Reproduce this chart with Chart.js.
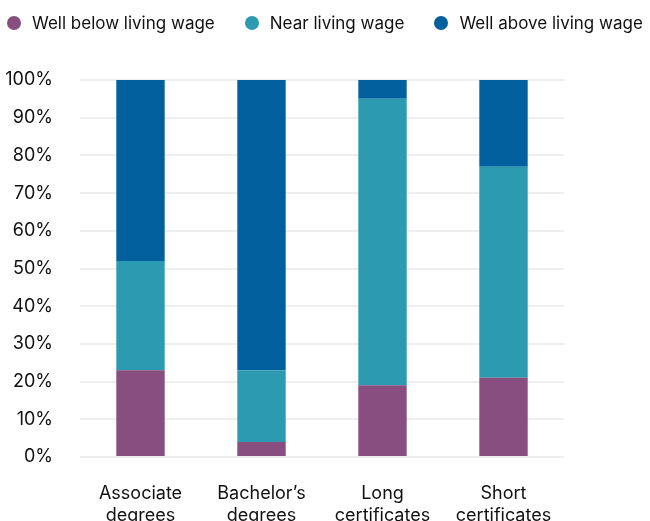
<!DOCTYPE html>
<html>
<head>
<meta charset="utf-8">
<script src="https://cdn.jsdelivr.net/npm/chart.js@4"></script>
<style>
    html, body { margin: 0; padding: 0; background: #fff; overflow: hidden; }
    #wrap { position: relative; width: 650px; height: 545px; }
    #legend {
        position: absolute; left: 7px; top: 13px; z-index: 2;
        display: flex; white-space: nowrap;
        font: 17px Inter, sans-serif; color: #111; line-height: 20px;
    }
    .legend-item { display: flex; align-items: center; margin-right: 30px; }
    .legend-item:last-child { margin-right: 0; }
    .legend-dot { width: 14px; height: 14px; border-radius: 50%; margin-right: 11px; }
</style>
</head>
<body>
<div id="wrap">
    <div id="legend"></div>
    <canvas id="chart"></canvas>
</div>
<script>
const CATEGORIES = [["Associate", "degrees"], ["Bachelor\u2019s", "degrees"], ["Long", "certificates"], ["Short", "certificates"]];
const BELOW = [23, 4, 19, 21];
const NEAR  = [29, 19, 76, 56];
const ABOVE = [48, 77, 5, 23];
const Y_TICKS = [0, 10, 20, 30, 40, 50, 60, 70, 80, 90, 100];

const FONT = "Inter";
const INK = "#111";

const chart = new Chart(document.getElementById("chart"), {
    type: "bar",
    data: {
        labels: CATEGORIES,
        datasets: [
            { label: "Well below living wage", data: BELOW, backgroundColor: "#874e7f" },
            { label: "Near living wage",       data: NEAR,  backgroundColor: "#2c9bb1" },
            { label: "Well above living wage", data: ABOVE, backgroundColor: "#03609f" },
        ].map(d => ({ ...d, barPercentage: 0.4, categoryPercentage: 1, borderWidth: 0 }))
    },
    options: {
        responsive: true, maintainAspectRatio: false, animation: false,
        layout: { padding: { left: 0, right: 0, top: 80, bottom: 0 } },
        plugins: {
            legend: { display: false },
            tooltip: { enabled: false }
        },
        scales: {
            x: {
                stacked: true,
                grid: { display: false, drawTicks: false }, border: { display: false },
                afterFit: axis => { axis.height = 88; },
                ticks: { color: INK, font: { family: FONT, size: 18 }, padding: 26, maxRotation: 0 }
            },
            y: {
                stacked: true, min: 0, max: 100,
                afterBuildTicks: axis => { axis.ticks = Y_TICKS.map(v => ({ value: v })); },
                afterFit: axis => { axis.width = 80; },
                grid: { color: "#eeeeee", lineWidth: 2, drawTicks: false },
                border: { display: false },
                ticks: { color: INK, font: { family: FONT, size: 18 }, padding: 27, callback: v => v + "%" }
            },
            yRight: {
                position: "right", display: true,
                afterFit: axis => { axis.width = 86; },
                grid: { display: false }, border: { display: false },
                ticks: { display: false }
            }
        }
    }
});

// ── HTML legend built from the datasets ─────────────────────────
document.getElementById("legend").innerHTML = chart.data.datasets.map(d => `
    <div class="legend-item">
        <span class="legend-dot" style="background:${d.backgroundColor}"></span>${d.label}
    </div>`).join("");
</script>
</body>
</html>
